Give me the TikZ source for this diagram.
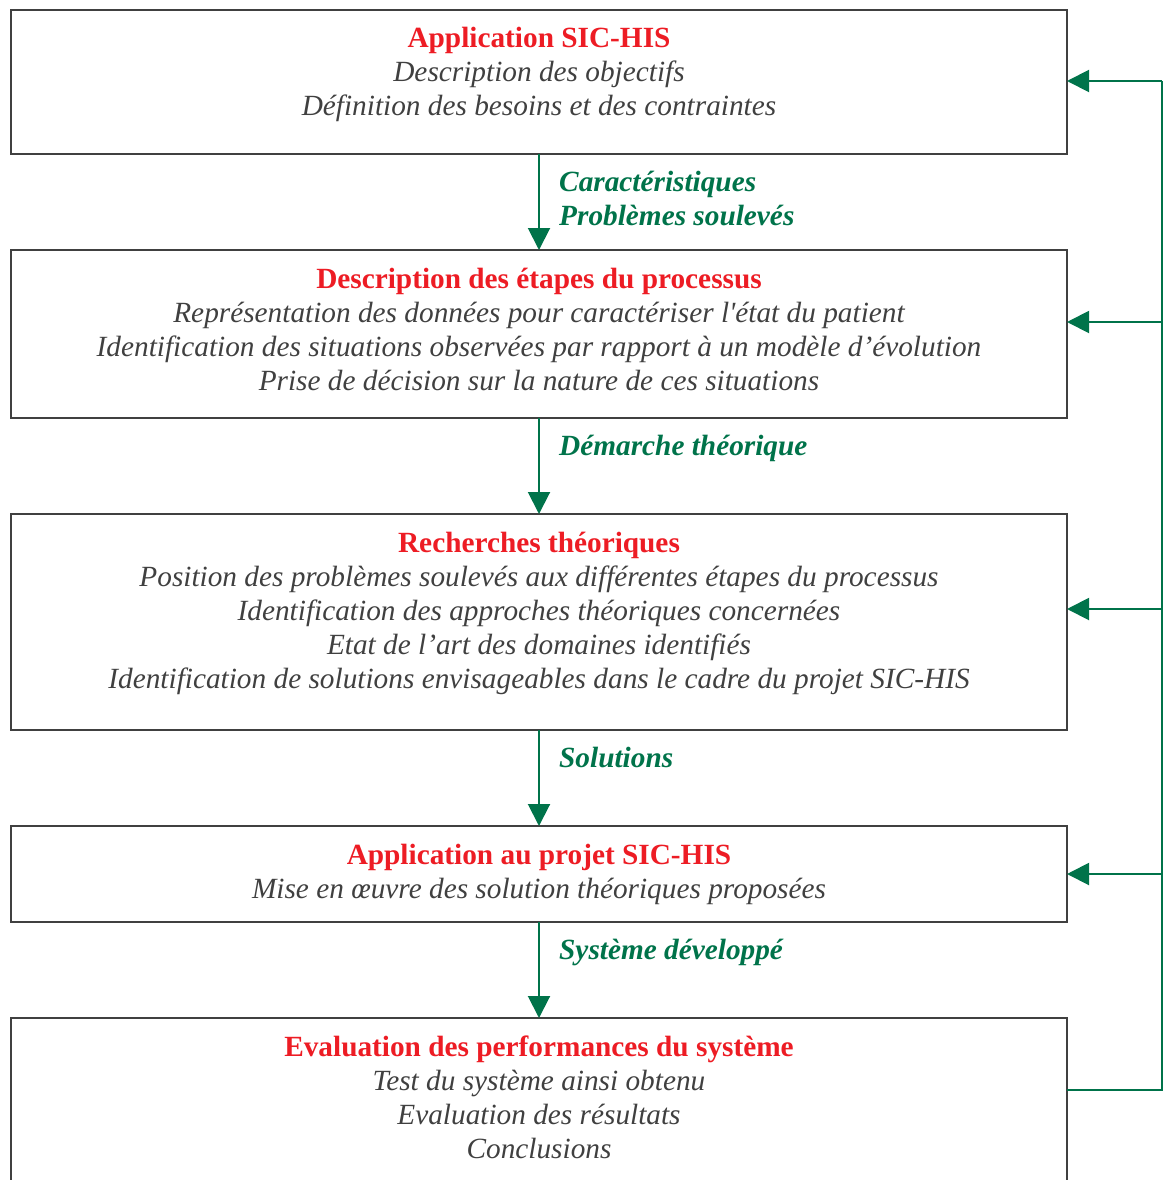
\documentclass[tikz,border=0pt]{standalone}
\usepackage{fontspec}
\setmainfont{Liberation Serif}
\usetikzlibrary{arrows.meta}
\definecolor{titlered}{HTML}{ED1C24}
\definecolor{flowgreen}{HTML}{00734A}
\definecolor{textgrey}{HTML}{404040}
\definecolor{framegrey}{HTML}{404040}
% straight apostrophe, set as a glyph so the TeX ligature mapping leaves it alone
\newcommand\straightq{{\XeTeXglyph\XeTeXglyphindex"quotesingle"\relax}}
\tikzset{
  box/.style={draw=framegrey,line width=2pt,minimum width=1056pt,inner sep=0pt,outer sep=0pt,anchor=north west},
  openbox/.style={minimum width=1056pt,inner sep=0pt,outer sep=0pt,anchor=north west},
  head/.style={text=titlered,font=\fontsize{29.3}{34}\selectfont\bfseries,anchor=base,inner sep=0pt},
  item/.style={text=textgrey,font=\fontsize{29.3}{34}\selectfont\itshape,anchor=base,inner sep=0pt},
  flowlabel/.style={text=flowgreen,font=\fontsize{29.3}{34}\selectfont\bfseries\itshape,anchor=base west,inner sep=0pt},
  flow/.style={draw=flowgreen,line width=2pt,-{Triangle[length=22pt,width=22pt]}},
  rail/.style={draw=flowgreen,line width=2pt},
}
\begin{document}
\begin{tikzpicture}[x=1pt,y=-1pt]
\useasboundingbox (0,0) rectangle (1163,1180);

% Process steps
\node[box,minimum height=144pt] (b1) at (11,10) {};
\node[box,minimum height=168pt] (b2) at (11,250) {};
\node[box,minimum height=216pt] (b3) at (11,514) {};
\node[box,minimum height=96pt]  (b4) at (11,826) {};
\node[openbox,minimum height=172pt] (b5) at (11,1018) {};
\draw[framegrey,line width=2pt] (b5.south west) -- (b5.north west) -- (b5.north east) -- (b5.south east);

% Step 1
\node[head] (h1)  at (539,48)  {Application SIC-HIS};
\node[item] (t1a) at (539,82)  {Description des objectifs};
\node[item] (t1b) at (539,116) {Définition des besoins et des contraintes};

% Step 2
\node[head] (h2)  at (539,288) {Description des étapes du processus};
\node[item] (t2a) at (539,322) {Représentation des données pour caractériser l\straightq état du patient};
\node[item] (t2b) at (539,356) {Identification des situations observées par rapport à un modèle d’évolution};
\node[item] (t2c) at (539,390) {Prise de décision sur la nature de ces situations};

% Step 3
\node[head] (h3)  at (539,552) {Recherches théoriques};
\node[item] (t3a) at (539,586) {Position des problèmes soulevés aux différentes étapes du processus};
\node[item] (t3b) at (539,620) {Identification des approches théoriques concernées};
\node[item] (t3c) at (539,654) {Etat de l’art des domaines identifiés};
\node[item] (t3d) at (539,688) {Identification de solutions envisageables dans le cadre du projet SIC-HIS};

% Step 4
\node[head] (h4)  at (539,864) {Application au projet SIC-HIS};
\node[item] (t4a) at (539,898) {Mise en œuvre des solution théoriques proposées};

% Step 5
\node[head] (h5)  at (539,1056) {Evaluation des performances du système};
\node[item] (t5a) at (539,1090) {Test du système ainsi obtenu};
\node[item] (t5b) at (539,1124) {Evaluation des résultats};
\node[item] (t5c) at (539,1158) {Conclusions};

% Forward flow
\draw[flow] (b1.south) -- (b2.north);
\draw[flow] (b2.south) -- (b3.north);
\draw[flow] (b3.south) -- (b4.north);
\draw[flow] (b4.south) -- (b5.north);

\node[flowlabel] (l1a) at (559,191) {Caractéristiques};
\node[flowlabel] (l1b) at (559,225) {Problèmes soulevés};
\node[flowlabel] (l2)  at (559,455) {Démarche théorique};
\node[flowlabel] (l3)  at (559,767) {Solutions};
\node[flowlabel] (l4)  at (559,959) {Système développé};

% Feedback loop
\coordinate (out5) at (1067,1090);
\coordinate (railx) at (1162,0);
\coordinate (in1) at (1067,81);
\coordinate (in2) at (1067,322);
\coordinate (in3) at (1067,609);
\coordinate (in4) at (1067,874);
\draw[rail] (out5) -- (railx |- out5) -- (railx |- in1);
\draw[flow] (railx |- in1) -- (in1);
\draw[flow] (railx |- in2) -- (in2);
\draw[flow] (railx |- in3) -- (in3);
\draw[flow] (railx |- in4) -- (in4);
\end{tikzpicture}
\end{document}
